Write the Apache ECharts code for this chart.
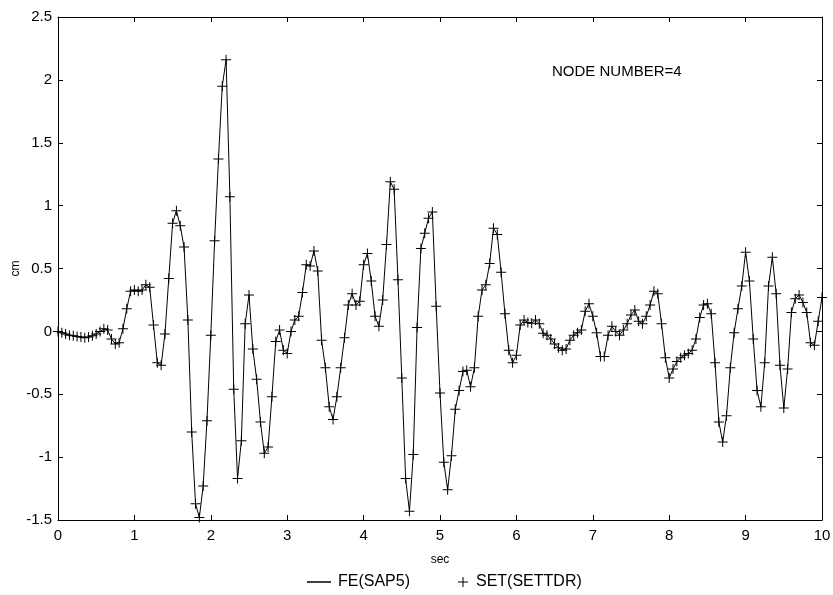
<!DOCTYPE html>
<html>
<head>
<meta charset="utf-8">
<script src="https://cdn.jsdelivr.net/npm/echarts@6/dist/echarts.min.js"></script>
<style>
html,body{margin:0;padding:0;background:#fff;}
#c{width:833px;height:595px;}
</style>
</head>
<body>
<div id="c"></div>
<script>
// Sampling step of the records (sec)
var DT = 0.05;
// Displacement (cm), one value every DT seconds from 0 to 10
var values = [
  0, -0.01, -0.02, -0.03, -0.035, -0.04, -0.045, -0.05, -0.045, -0.035,
  -0.02, 0.0, 0.02, 0.01, -0.06, -0.10, -0.09, 0.02, 0.18, 0.32,
  0.33, 0.32, 0.33, 0.37, 0.35, 0.05, -0.25, -0.27, -0.02, 0.42,
  0.86, 0.96, 0.84, 0.67, 0.09, -0.80, -1.37, -1.48, -1.23, -0.71,
  -0.03, 0.72, 1.37, 1.95, 2.16, 1.07, -0.46, -1.17, -0.87, 0.06,
  0.29, -0.14, -0.38, -0.72, -0.97, -0.92, -0.52, -0.08, 0.01, -0.15,
  -0.175, 0.0, 0.09, 0.12, 0.31, 0.53, 0.52, 0.64, 0.48, -0.07,
  -0.29, -0.60, -0.70, -0.52, -0.29, -0.05, 0.21, 0.30, 0.21, 0.24,
  0.53, 0.62, 0.40, 0.12, 0.04, 0.25, 0.69, 1.19, 1.13, 0.41,
  -0.37, -1.17, -1.43, -0.98, 0.03, 0.66, 0.78, 0.90, 0.95, 0.20,
  -0.49, -1.04, -1.26, -0.99, -0.62, -0.47, -0.32, -0.31, -0.44, -0.29,
  0.12, 0.33, 0.37, 0.54, 0.82, 0.77, 0.47, 0.14, -0.15, -0.25,
  -0.19, 0.05, 0.09, 0.07, 0.065, 0.09, 0.06, -0.015, -0.03, -0.06,
  -0.10, -0.13, -0.15, -0.14, -0.07, -0.03, -0.01, 0.01, 0.16, 0.22,
  0.12, -0.01, -0.20, -0.20, -0.03, 0.04, 0.0, -0.03, 0.01, 0.06,
  0.13, 0.17, 0.08, 0.06, 0.12, 0.21, 0.32, 0.30, 0.06, -0.21,
  -0.37, -0.30, -0.24, -0.21, -0.19, -0.175, -0.15, -0.06, 0.11, 0.21,
  0.22, 0.14, -0.25, -0.72, -0.88, -0.67, -0.29, -0.01, 0.18, 0.36,
  0.63, 0.40, -0.06, -0.47, -0.60, -0.25, 0.36, 0.59, 0.30, -0.27,
  -0.61, -0.30, 0.15, 0.26, 0.29, 0.23, 0.15, -0.09, -0.11, 0.08,
  0.27
];
var seriesNames = ['FE(SAP5)', 'SET(SETTDR)'];
var xTicks = [0, 1, 2, 3, 4, 5, 6, 7, 8, 9, 10];
var yTicks = [-1.5, -1, -0.5, 0, 0.5, 1, 1.5, 2, 2.5];
var annotation = 'NODE NUMBER=4';

var pts = values.map(function (v, i) { return [Math.round(i * DT * 100) / 100, v]; });

var FONT = '"Liberation Sans", Arial, sans-serif';
var TICKFS = 15;
var FS = 15;
var LEGFS = 16;
var plusPath = 'path://M4.5,0h1v4.5h4.5v1h-4.5v4.5h-1v-4.5h-4.5v-1h4.5z';

var chart = echarts.init(document.getElementById('c'), null, {renderer: 'canvas'});
var axisCommonX = {
  type: 'value', min: xTicks[0], max: xTicks[xTicks.length - 1], interval: 1,
  axisLine: {show: true, onZero: false, lineStyle: {color: '#000', width: 1}},
  axisTick: {show: true, inside: true, length: 5, lineStyle: {color: '#000'}},
  splitLine: {show: false}
};
var axisCommonY = {
  type: 'value', min: yTicks[0], max: yTicks[yTicks.length - 1], interval: 0.5,
  axisLine: {show: true, onZero: false, lineStyle: {color: '#000', width: 1}},
  axisTick: {show: true, inside: true, length: 5, lineStyle: {color: '#000'}},
  splitLine: {show: false}
};
chart.setOption({
  animation: false,
  backgroundColor: '#fff',
  textStyle: {fontFamily: FONT},
  title: {
    text: annotation, left: 552, top: 64, padding: 0,
    textStyle: {fontSize: FS, fontWeight: 'normal', color: '#000', fontFamily: FONT}
  },
  grid: {left: 58, right: 11, top: 17, bottom: 75, containLabel: false, outerBoundsMode: 'none'},
  legend: [
    {
      data: [{name: seriesNames[0], icon: 'rect'}],
      left: 302, top: 569, itemWidth: 24, itemHeight: 1.5, itemGap: 6,
      textStyle: {fontSize: LEGFS, color: '#000', fontFamily: FONT, padding: [0, 0, 0, 2]}
    },
    {
      data: [{name: seriesNames[1], icon: plusPath}],
      left: 453, top: 569, itemWidth: 10, itemHeight: 10, itemGap: 6,
      textStyle: {fontSize: LEGFS, color: '#000', fontFamily: FONT, padding: [0, 0, 0, 3]}
    }
  ],
  xAxis: [
    Object.assign({}, axisCommonX, {
      position: 'bottom', name: 'sec', nameLocation: 'middle', nameGap: 34, nameMoveOverlap: false,
      nameTextStyle: {fontSize: 12, color: '#000', fontFamily: FONT},
      axisLabel: {show: true, margin: 8, fontSize: TICKFS, color: '#000', fontFamily: FONT,
        formatter: function (v) { return String(v); }}
    }),
    Object.assign({}, axisCommonX, {position: 'top', axisLabel: {show: false}})
  ],
  yAxis: [
    Object.assign({}, axisCommonY, {
      position: 'left', name: 'cm', nameLocation: 'middle', nameGap: 36, nameRotate: 90,
      nameMoveOverlap: false,
      nameTextStyle: {fontSize: 12, color: '#000', fontFamily: FONT},
      axisLabel: {show: true, margin: 6, fontSize: TICKFS, color: '#000', fontFamily: FONT,
        formatter: function (v) { return String(Math.round(v * 10) / 10); }}
    }),
    Object.assign({}, axisCommonY, {position: 'right', axisLabel: {show: false}})
  ],
  series: [
    {
      name: seriesNames[0], type: 'line', data: pts, showSymbol: false, symbol: 'none',
      lineStyle: {color: '#000', width: 1}, itemStyle: {color: '#000'}, z: 2
    },
    {
      name: seriesNames[1], type: 'scatter', data: pts, symbol: plusPath, symbolSize: 10,
      itemStyle: {color: '#000', opacity: 1}, z: 3
    }
  ]
});
</script>
</body>
</html>
